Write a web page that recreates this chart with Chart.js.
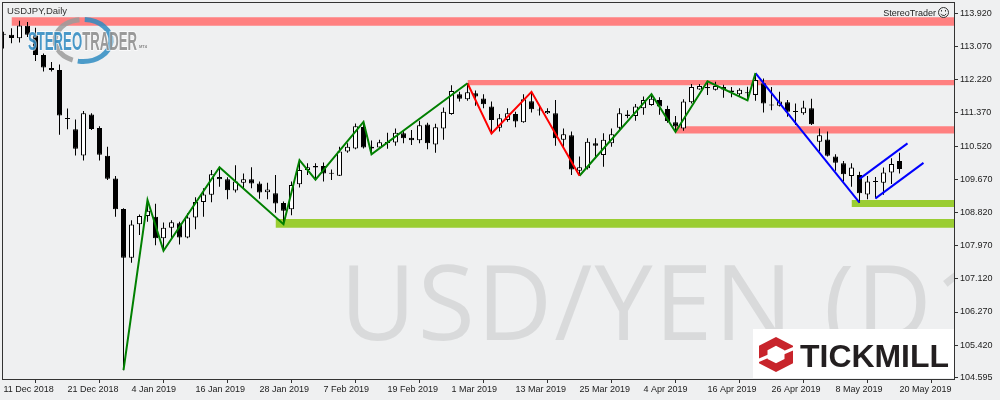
<!DOCTYPE html>
<html lang="en">
<head>
<meta charset="UTF-8">
<title>USDJPY Daily</title>
<script src="https://cdn.jsdelivr.net/npm/chart.js@4.4.0/dist/chart.umd.min.js"></script>
<style>
  html, body { margin: 0; padding: 0; background: #eff0f1; }
  #wrap { width: 1000px; height: 400px; position: relative; }
</style>
</head>
<body>
<div id="wrap"><canvas id="chart"></canvas></div>
<script>
// date labels, one every 8 daily bars starting with bar 0
const xLabels = ['11 Dec 2018', '21 Dec 2018', '4 Jan 2019', '16 Jan 2019', '28 Jan 2019', '7 Feb 2019',
  '19 Feb 2019', '1 Mar 2019', '13 Mar 2019', '25 Mar 2019', '4 Apr 2019', '16 Apr 2019',
  '26 Apr 2019', '8 May 2019', '20 May 2019'];
const yTicks = [113.920, 113.070, 112.220, 111.370, 110.520, 109.670, 108.820, 107.970, 107.120, 106.270, 105.420, 104.595];

// daily OHLC, 11 Dec 2018 .. 20 May 2019
const opens = [113.37,113.37,113.28,113.60,113.37,112.85,112.52,112.47,111.21,110.95,
  110.28,111.33,110.98,110.27,109.69,108.91,107.66,108.52,108.73,108.71,
  108.16,108.43,108.54,108.18,108.69,109.09,109.27,109.73,109.67,109.38,
  109.58,109.67,109.56,109.34,109.31,109.06,108.90,109.54,109.91,110.01,
  110.01,109.83,109.76,110.38,110.46,111.01,110.50,110.48,110.60,110.61,
  110.85,110.73,110.67,111.07,110.56,110.97,111.34,111.85,111.72,111.87,
  111.74,111.53,110.99,111.19,111.34,111.13,111.67,111.44,111.36,111.36,
  110.68,110.80,109.89,109.95,110.59,110.29,110.59,110.99,111.33,111.29,
  111.49,111.57,111.70,111.47,111.13,110.97,111.64,111.97,112.03,111.96,
  112.03,111.94,111.85,111.90,111.83,112.13,111.58,111.55,111.64,111.41,
  111.36,111.49,110.63,110.69,110.25,110.08,109.75,109.78,109.28,109.62,
  109.58,109.84,110.14];
const highs = [113.45,113.54,113.73,113.70,113.55,112.89,112.67,112.61,111.48,111.20,
  111.42,111.36,111.03,110.50,109.75,108.93,108.62,108.77,109.14,109.04,
  108.56,108.62,108.58,108.80,109.21,109.44,109.91,109.98,109.72,110.03,
  109.82,109.98,109.61,109.58,109.78,109.10,109.61,110.16,110.08,110.08,
  110.10,109.92,110.50,110.59,111.10,111.14,110.66,110.68,110.86,110.97,
  110.91,110.93,111.17,111.12,111.09,111.51,112.08,111.91,112.13,111.94,
  111.85,111.66,111.34,111.49,111.40,111.85,111.91,111.55,111.49,111.70,
  110.97,110.89,110.25,110.72,110.72,110.85,110.97,111.49,111.44,111.60,
  111.79,111.85,111.77,111.55,111.29,111.72,112.11,112.11,112.18,112.17,
  112.09,112.03,112.00,112.04,112.39,112.25,112.03,111.91,111.70,111.61,
  111.68,111.73,110.97,110.89,110.31,110.14,110.08,109.86,109.75,109.73,
  109.97,110.21,110.35];
const lows = [113.02,113.15,113.17,113.31,112.70,112.43,112.43,110.81,110.95,110.28,
  110.15,110.93,110.15,109.65,108.71,104.78,107.53,108.24,108.58,107.98,
  107.84,108.16,108.00,108.16,108.39,108.71,109.08,109.48,109.16,109.33,
  109.44,109.44,109.17,109.16,108.81,108.52,108.75,109.46,109.78,109.66,
  109.61,109.65,109.75,110.35,110.44,110.46,110.31,110.45,110.45,110.53,
  110.59,110.55,110.59,110.44,110.35,110.68,111.32,111.66,111.68,111.55,
  111.49,110.84,110.89,111.14,111.00,111.12,111.38,111.30,111.34,110.53,
  110.46,109.78,109.76,109.92,110.21,109.99,110.50,110.93,111.23,111.17,
  111.32,111.55,111.32,111.12,110.88,110.91,111.61,111.96,111.83,111.94,
  111.76,111.77,111.79,111.69,111.68,111.38,111.44,111.53,111.27,111.06,
  111.32,111.06,110.38,110.25,109.89,109.61,109.48,109.07,109.16,109.18,
  109.27,109.55,109.82];
const closes = [113.38,113.29,113.61,113.37,112.85,112.53,112.47,111.30,111.22,110.45,
  111.36,110.96,110.30,109.68,108.90,107.66,108.51,108.73,108.86,108.16,
  108.43,108.57,108.18,108.69,109.09,109.28,109.80,109.67,109.39,109.61,
  109.67,109.56,109.33,109.41,109.05,108.86,109.52,109.91,109.98,109.97,
  109.82,109.81,110.38,110.50,111.03,110.48,110.46,110.62,110.62,110.86,
  110.72,110.67,111.05,110.59,111.00,111.40,111.93,111.73,111.90,111.79,
  111.59,111.19,111.23,111.36,111.15,111.72,111.46,111.43,111.42,110.72,
  110.82,109.92,109.98,110.63,110.53,110.68,110.82,111.36,111.29,111.53,
  111.70,111.73,111.53,111.16,111.02,111.66,112.03,112.06,112.00,112.06,
  111.97,111.90,111.96,111.87,112.21,111.61,111.56,111.66,111.40,111.39,
  111.51,111.08,110.80,110.27,110.09,109.80,109.97,109.31,109.61,109.60,
  109.84,110.06,109.93];

// zigzag swing points (bar index, price)
const zzIdx = [15, 18, 20, 27, 35, 37, 39, 45, 46, 58, 61, 66, 72, 81, 84, 88, 93, 94, 107];
const zzPrice = [104.78, 109.14, 107.84, 109.98, 108.52, 110.16, 109.66, 111.14, 110.31, 112.13,
  110.84, 111.91, 109.76, 111.85, 110.88, 112.18, 111.69, 112.39, 109.07];

// rising channel
const chanUpIdx = [107, 113];
const chanUpPrice = [109.68, 110.59];
const chanLoIdx = [109, 115];
const chanLoPrice = [109.18, 110.09];

// support / resistance zones
const zoneFrom = [1, 58, 84, 34, 106];
const zoneTop = [113.82, 112.21, 111.03, 108.65, 109.14];
const zoneBottom = [113.60, 112.08, 110.84, 108.43, 108.96];
const zoneKind = ['res', 'res', 'res', 'sup', 'sup'];

const X_MIN = -0.1875, X_MAX = 118.8125;
const Y_MIN = 104.5541, Y_MAX = 114.2095;

Chart.defaults.font.family = '"Liberation Sans", Arial, sans-serif';
Chart.defaults.font.size = 9;
Chart.defaults.color = '#222';

function seg(from, to, color) {
  const pts = [];
  for (let k = from; k <= to; k++) pts.push({ x: zzIdx[k], y: zzPrice[k] });
  return { type: 'line', data: pts, borderColor: color, borderWidth: 2, pointRadius: 0, fill: false, tension: 0, order: 1 };
}

const datasets = [];
zoneFrom.forEach((f, k) => {
  const col = zoneKind[k] === 'res' ? '#ff8080' : '#9acd32';
  datasets.push({ type: 'line', data: [{ x: f, y: zoneTop[k] }, { x: X_MAX, y: zoneTop[k] }],
    borderColor: 'transparent', borderWidth: 0, pointRadius: 0, fill: false, order: 20 });
  datasets.push({ type: 'line', data: [{ x: f, y: zoneBottom[k] }, { x: X_MAX, y: zoneBottom[k] }],
    borderColor: 'transparent', borderWidth: 0, pointRadius: 0, fill: '-1', backgroundColor: col, order: 20 });
});

datasets.push({
  type: 'bar',
  data: highs.map((h, i) => ({ x: i, y: [lows[i], h] })),
  backgroundColor: '#000', borderWidth: 0, barThickness: 1, grouped: false, inflateAmount: 0, order: 6
});
datasets.push({
  type: 'bar',
  data: opens.map((o, i) => ({ x: i, y: [o, closes[i]] })),
  backgroundColor: opens.map((o, i) => closes[i] > o ? '#ffffff' : '#000000'),
  borderColor: '#000', borderWidth: 1, borderSkipped: false, barThickness: 5, minBarLength: 1,
  grouped: false, inflateAmount: 0, order: 5
});

datasets.push(seg(0, 9, '#008000'));
datasets.push(seg(9, 12, '#ff0000'));
datasets.push(seg(12, 17, '#008000'));
datasets.push(seg(17, 18, '#0000ff'));
datasets.push({ type: 'line', data: chanUpIdx.map((x, k) => ({ x, y: chanUpPrice[k] })),
  borderColor: '#0000ff', borderWidth: 2, pointRadius: 0, fill: false, order: 1 });
datasets.push({ type: 'line', data: chanLoIdx.map((x, k) => ({ x, y: chanLoPrice[k] })),
  borderColor: '#0000ff', borderWidth: 2, pointRadius: 0, fill: false, order: 1 });

const decor = {
  id: 'decor',
  beforeDraw(chart) {
    const ctx = chart.ctx;
    ctx.save();
    ctx.fillStyle = '#eff0f1';
    ctx.fillRect(0, 0, chart.width, chart.height);
    ctx.restore();
  },
  beforeDatasetsDraw(chart) {
    const ctx = chart.ctx, ca = chart.chartArea;
    ctx.save();
    ctx.beginPath();
    ctx.rect(ca.left, ca.top, ca.right - ca.left, ca.bottom - ca.top);
    ctx.clip();
    // big watermark, drawn letter by letter with a little spacing
    ctx.font = '104px "Open Sans", sans-serif';
    ctx.fillStyle = '#d9dadb';
    ctx.textBaseline = 'alphabetic';
    const gap = 2;
    let px = 340;
    for (const ch of 'USD/YEN (D1)') {
      ctx.fillText(ch, px, 340);
      px += ctx.measureText(ch).width + gap;
    }
    ctx.restore();

    // Tickmill box
    ctx.save();
    ctx.fillStyle = '#ffffff';
    ctx.fillRect(753, 329, ca.right - 753, ca.bottom - 330);
    const l = 759, r = 793, t = 337, b = 372, cx = (l + r) / 2, cy = (t + b) / 2;
    const hex = (s) => {
      const hw = (r - l) / 2 * s, hh = (b - t) / 2 * s;
      ctx.moveTo(cx, cy - hh);
      ctx.lineTo(cx + hw, cy - hh / 2);
      ctx.lineTo(cx + hw, cy + hh / 2);
      ctx.lineTo(cx, cy + hh);
      ctx.lineTo(cx - hw, cy + hh / 2);
      ctx.lineTo(cx - hw, cy - hh / 2);
      ctx.closePath();
    };
    ctx.beginPath();
    hex(1); hex(0.5);
    ctx.fillStyle = '#c8242b';
    ctx.fill('evenodd');
    ctx.strokeStyle = '#ffffff';
    ctx.lineWidth = 3;
    ctx.beginPath();
    ctx.moveTo(cx + 6, cy - 1); ctx.lineTo(cx + 20, cy - 7);
    ctx.moveTo(cx - 6, cy + 1); ctx.lineTo(cx - 20, cy + 7);
    ctx.stroke();
    ctx.font = 'bold 32px "Liberation Sans", Arial, sans-serif';
    const tsx = 149 / ctx.measureText('TICKMILL').width;
    ctx.fillStyle = '#231f20';
    ctx.translate(800, 367);
    ctx.scale(tsx, 1);
    ctx.fillText('TICKMILL', 0, 0);
    ctx.restore();
  },
  afterDraw(chart) {
    const ctx = chart.ctx, ca = chart.chartArea;
    ctx.save();
    // frame
    ctx.strokeStyle = '#333';
    ctx.lineWidth = 1;
    ctx.strokeRect(Math.round(ca.left) + 0.5, Math.round(ca.top) + 0.5,
      Math.round(ca.right - ca.left), Math.round(ca.bottom - ca.top));

    // titles
    ctx.fillStyle = '#333';
    ctx.font = '9.5px "Liberation Sans", Arial, sans-serif';
    ctx.textBaseline = 'alphabetic';
    ctx.fillText('USDJPY,Daily', 7, 14);
    ctx.font = '9px "Liberation Sans", Arial, sans-serif';
    ctx.textAlign = 'right';
    ctx.fillStyle = '#222';
    ctx.fillText('StereoTrader', 936, 16);
    // smiley
    ctx.strokeStyle = '#333';
    ctx.beginPath(); ctx.arc(943.5, 12.5, 5, 0, Math.PI * 2); ctx.stroke();
    ctx.beginPath(); ctx.arc(943.5, 12.5, 3, Math.PI * 0.15, Math.PI * 0.85); ctx.stroke();
    ctx.fillStyle = '#333';
    ctx.fillRect(941, 10, 1, 1.5); ctx.fillRect(945, 10, 1, 1.5);

    // StereoTrader logo
    ctx.globalAlpha = 0.85;
    ctx.lineWidth = 5;
    ctx.strokeStyle = '#9b9b9b';
    ctx.beginPath(); ctx.ellipse(83, 40.5, 28, 21, 0, Math.PI * 0.62, Math.PI * 1.46); ctx.stroke();
    ctx.strokeStyle = '#2f8cc2';
    ctx.beginPath(); ctx.ellipse(83, 40.5, 28, 21, 0, Math.PI * 1.52, Math.PI * 2.56); ctx.stroke();
    ctx.textAlign = 'left';
    ctx.font = 'bold 25px "Liberation Sans Narrow", "Liberation Sans", Arial, sans-serif';
    const w1 = ctx.measureText('STEREO').width, w2 = ctx.measureText('TRADER').width;
    const s = 109 / (w1 + w2);
    ctx.translate(28, 50);
    ctx.scale(s, 1);
    ctx.lineWidth = 2;
    ctx.strokeStyle = 'rgba(255,255,255,0.8)';
    ctx.strokeText('STEREOTRADER', 0, 0);
    ctx.fillStyle = '#2a87bf';
    ctx.fillText('STEREO', 0, 0);
    ctx.fillStyle = '#8a8a8a';
    ctx.fillText('TRADER', w1, 0);
    ctx.restore();
    ctx.save();
    ctx.fillStyle = '#8a8a8a';
    ctx.font = 'bold 4px "Liberation Sans", Arial, sans-serif';
    ctx.fillText('MT4', 139, 48);
    ctx.restore();
  }
};

new Chart(document.getElementById('chart'), {
  type: 'bar',
  data: { datasets },
  options: {
    responsive: true,
    maintainAspectRatio: false,
    animation: false,
    events: [],
    layout: { padding: { left: 2, top: 2, right: 0, bottom: 0 } },
    plugins: { legend: { display: false }, tooltip: { enabled: false } },
    scales: {
      x: {
        type: 'linear', position: 'bottom', min: X_MIN, max: X_MAX, offset: false,
        afterBuildTicks: (sc) => { sc.ticks = xLabels.map((_, k) => ({ value: k * 8 })); },
        afterFit: (sc) => { sc.height = 21; sc.paddingLeft = 0; sc.paddingRight = 0; },
        ticks: {
          callback: (v) => xLabels[Math.round(v / 8)],
          align: 'start', maxRotation: 0, autoSkip: false, padding: 1, color: '#222'
        },
        grid: { display: true, drawOnChartArea: false, drawTicks: true, tickLength: 4, color: '#333' },
        border: { display: false }
      },
      y: {
        type: 'linear', position: 'right', min: Y_MIN, max: Y_MAX, beginAtZero: false,
        afterBuildTicks: (sc) => { sc.ticks = yTicks.map((v) => ({ value: v })); },
        afterFit: (sc) => { sc.width = 46; sc.paddingTop = 0; sc.paddingBottom = 0; },
        ticks: { callback: (v) => v.toFixed(3), autoSkip: false, padding: 2, color: '#222' },
        grid: { display: true, drawOnChartArea: false, drawTicks: true, tickLength: 4, color: '#333' },
        border: { display: false }
      }
    }
  },
  plugins: [decor]
});
</script>
</body>
</html>
